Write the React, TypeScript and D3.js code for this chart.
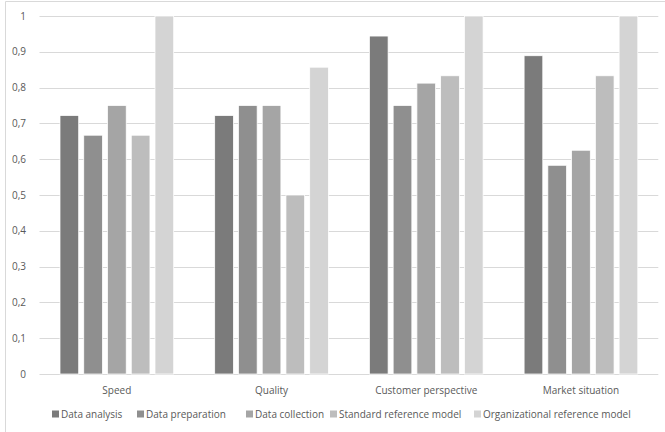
import React from "react";
import * as d3 from "d3";

const categories = ["Speed", "Quality", "Customer perspective", "Market situation"];
const seriesNames = [
  "Data analysis",
  "Data preparation",
  "Data collection",
  "Standard reference model",
  "Organizational reference model",
];
const dataAnalysis = [0.722, 0.722, 0.944, 0.889];
const dataPreparation = [0.667, 0.75, 0.75, 0.583];
const dataCollection = [0.75, 0.75, 0.8125, 0.625];
const standardReference = [0.667, 0.5, 0.833, 0.833];
const organizationalReference = [1, 0.857, 1, 1];
const seriesValues = [dataAnalysis, dataPreparation, dataCollection, standardReference, organizationalReference];
const yTicks = [0, 0.1, 0.2, 0.3, 0.4, 0.5, 0.6, 0.7, 0.8, 0.9, 1];
const colors = ["#7b7b7b", "#8f8f8f", "#a5a5a5", "#bdbdbd", "#d4d4d4"];

const W = 665;
const H = 432;
const FONT = "'Open Sans', 'Noto Sans', sans-serif";

export default function App() {
  const x0 = d3.scaleBand<string>().domain(categories).range([39.5, 658.3]).padding(0);
  const inner = d3
    .scaleBand<string>()
    .domain(seriesNames)
    .range([20.5, x0.bandwidth() - 20.5])
    .paddingInner(0.213)
    .paddingOuter(0);
  const y = d3.scaleLinear().domain([0, 1]).range([374, 16]);
  const fmt = (v: number) => (v === 0 || v === 1 ? String(v) : d3.format(".1f")(v).replace(".", ","));

  const legendX = [52, 137, 246, 330, 474];

  return (
    <svg
      width={W}
      height={H}
      style={{ position: "absolute", left: 0, top: 0, background: "#fff" }}
      fontFamily={FONT}
    >
      <rect x={0} y={0} width={W} height={H} fill="#fff" />
      <line x1={5.5} x2={5.5} y1={1.5} y2={H} stroke="#d9d9d9" />
      <line x1={5.5} x2={W} y1={1.5} y2={1.5} stroke="#d9d9d9" />
      {yTicks.map((t) => (
        <g key={t}>
          <line
            x1={x0.range()[0]}
            x2={x0.range()[1]}
            y1={Math.round(y(t)) + 0.5}
            y2={Math.round(y(t)) + 0.5}
            stroke="#d9d9d9"
          />
          <text x={26} y={y(t)} dy="0.35em" textAnchor="end" fontSize={10} fill="#595959">
            {fmt(t)}
          </text>
        </g>
      ))}
      {categories.map((c, ci) => (
        <g key={c} transform={`translate(${x0(c)},0)`}>
          {seriesNames.map((s, si) => {
            const v = seriesValues[si][ci];
            return (
              <rect
                key={s}
                x={inner(s)}
                y={y(v)}
                width={inner.bandwidth()}
                height={y(0) - y(v)}
                fill={colors[si]}
                stroke="#ffffff"
                strokeWidth={0.75}
              />
            );
          })}
          <text
            x={x0.bandwidth() / 2}
            y={390}
            dy="0.35em"
            textAnchor="middle"
            fontSize={10}
            fill="#595959"
          >
            {c}
          </text>
        </g>
      ))}
      {seriesNames.map((s, si) => (
        <g key={s} transform={`translate(${legendX[si]},414)`}>
          <rect x={0} y={-3.5} width={7} height={7} fill={colors[si]} />
          <text x={9} y={0} dy="0.35em" fontSize={10} fill="#595959">
            {s}
          </text>
        </g>
      ))}
    </svg>
  );
}
